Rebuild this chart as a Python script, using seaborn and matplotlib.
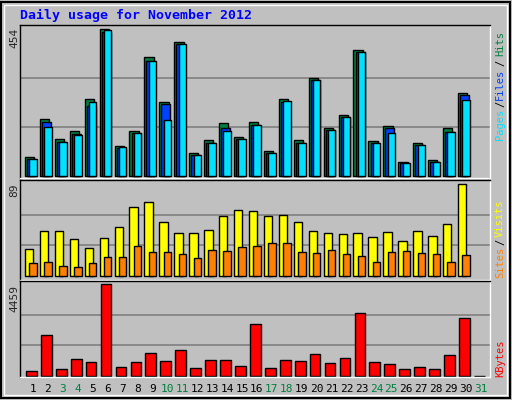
import matplotlib
matplotlib.use("Agg")
import matplotlib.pyplot as plt
import seaborn as sns
import numpy as np
from matplotlib.patches import Rectangle

sns.set_style("white")
plt.rcParams['font.family'] = ['DejaVu Sans Mono', 'DejaVu Sans']

days = list(range(1, 32))
hits = [58,176,113,138,238,454,93,138,368,228,414,70,110,164,120,167,77,238,110,303,148,188,389,108,154,42,102,51,148,256,0]
files = [54,167,104,129,216,444,88,132,355,222,407,64,101,147,115,158,70,228,101,296,142,182,382,102,148,40,96,43,135,250,0]
pages = [54,151,104,126,228,450,89,132,355,173,408,64,101,138,113,156,70,232,101,296,141,182,383,101,132,39,95,42,135,235,0]
visits = [26,43.5,43.5,36,27,37,48,67,72,52,42,42,45,58,64,63,58,59,52,43.5,42,41,42,38,43,34,43.5,39,50,89,0]
sites = [12.6,13.5,9.7,8.7,12.6,18,18,29,23,23,21,17,25,24,28,29,32,32,23,22,25,21,19,13.5,23,24,22,21,13.5,20,0]
kbytes = [212,1969,309,797,651,4459,407,651,1090,700,1237,358,749,749,456,2506,358,749,700,1042,602,846,3043,651,553,309,407,309,993,2799,0]
weekend = [3,4,10,11,17,18,24,25,31]

W, H = 512, 400
fig = plt.figure(figsize=(W/100, H/100), dpi=100)
fig.patch.set_facecolor('#C0C0C0')
fig.add_artist(Rectangle((0.002, 0.004), 0.994, 0.992, transform=fig.transFigure,
                         fill=False, edgecolor='black', lw=1.5))
fig.add_artist(Rectangle((0.008, 0.012), 0.982, 0.976, transform=fig.transFigure,
                         fill=False, edgecolor='white', lw=1))

def mkax(top, bot):
    return fig.add_axes([20/W, 1-bot/H, 470/W, (bot-top)/H])

x = np.array(days, dtype=float)
xl = (0.13, 31.6)

def style(ax, ymin, ymax, vmax):
    ax.set_facecolor('#C0C0C0')
    ax.set_xlim(*xl); ax.set_ylim(ymin, ymax)
    for v in (vmax/3, 2*vmax/3):
        ax.axhline(v, color='#808080', lw=1.2, zorder=0)
    ax.set_xticks([]); ax.set_yticks([])
    for s in ax.spines.values():
        s.set_color('black'); s.set_linewidth(1)
    ax.spines['right'].set_color('white'); ax.spines['bottom'].set_color('white')

def lws(vals):
    return [1 if v > 0 else 0 for v in vals]

ax1 = mkax(25, 178)
style(ax1, -6, 466, 454)
ax1.bar(x-0.54, hits, width=0.62, align='edge', color='#008040', edgecolor='black', lw=lws(hits), zorder=2)
ax1.bar(x-0.4, files, width=0.6, align='edge', color='#0040FF', edgecolor='black', lw=lws(files), zorder=3)
ax1.bar(x-0.25, pages, width=0.5, align='edge', color='#00E0FF', edgecolor='black', lw=lws(pages), zorder=4)

ax2 = mkax(180, 280)
style(ax2, -3.9, 93.2, 89)
ax2.bar(x-0.54, visits, width=0.56, align='edge', color='#FFFF00', edgecolor='black', lw=lws(visits), zorder=2)
ax2.bar(x-0.25, sites, width=0.5, align='edge', color='#FF8000', edgecolor='black', lw=lws(sites), zorder=3)

ax3 = mkax(281, 377)
style(ax3, -63, 4620, 4459)
sns.barplot(x=x-0.11, y=kbytes, native_scale=True, width=0.72, color='#FF0000',
            saturation=1, edgecolor='black', linewidth=1, ax=ax3, zorder=2)
ax3.set_xlim(*xl); ax3.set_ylim(-63, 4620); ax3.set_xticks([]); ax3.set_yticks([])

for d in days:
    fig.text((33 + (d-1)*14.93)/W, 1-389/H, str(d), ha='center', va='center', fontsize=8,
             color='#008040' if d in weekend else 'black')

fig.text(20/W, 1-15/H, 'Daily usage for November 2012', color='#0000FF', fontsize=9.5,
         fontweight='bold', ha='left', va='center')

fig.text(14/W, 1-38/H, '454', rotation=90, ha='center', va='center', fontsize=8)
fig.text(14/W, 1-190/H, '89', rotation=90, ha='center', va='center', fontsize=8)
fig.text(14/W, 1-298/H, '4459', rotation=90, ha='center', va='center', fontsize=8)

def rtext(y, s, c):
    fig.text(500/W, 1-y/H, s, rotation=90, ha='center', va='center', fontsize=7.5, color=c)
rtext(124, 'Pages', '#00E0FF'); rtext(104, '/', 'black'); rtext(84, 'Files', '#0040FF')
rtext(63, '/', 'black'); rtext(43, 'Hits', '#008040')
rtext(262, 'Sites', '#FF8000'); rtext(242, '/', 'black'); rtext(218, 'Visits', '#FFFF00')
rtext(358, 'KBytes', '#FF0000')

fig.savefig('out.png', dpi=100, facecolor=fig.get_facecolor())
